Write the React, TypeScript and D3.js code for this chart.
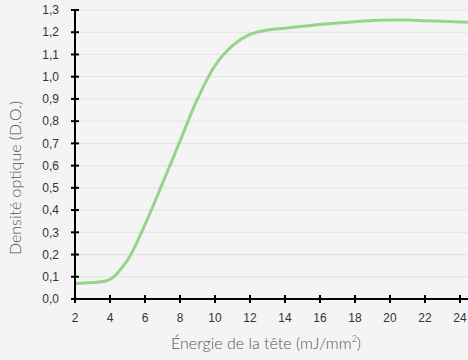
import React from 'react';
import * as d3 from 'd3';

// energy (mJ/mm²) and optical density
const energy = [2, 3, 4, 5, 6, 7, 8, 9, 10, 11, 12, 13, 14, 15, 16, 17, 18, 19, 20, 21, 22, 23, 24, 24.5];
const density = [0.07, 0.074, 0.088, 0.175, 0.335, 0.52, 0.71, 0.9, 1.05, 1.14, 1.19, 1.21, 1.218, 1.227, 1.235, 1.241, 1.247, 1.253, 1.255, 1.255, 1.252, 1.249, 1.246, 1.245];
const xTicks = [2, 4, 6, 8, 10, 12, 14, 16, 18, 20, 22, 24];
const yTicks = [0, 0.1, 0.2, 0.3, 0.4, 0.5, 0.6, 0.7, 0.8, 0.9, 1.0, 1.1, 1.2, 1.3];

const W = 468;
const H = 360;

export default function App() {
  const x = d3.scaleLinear().domain([2, 24]).range([75, 460]);
  const y = d3.scaleLinear().domain([0, 1.3]).range([299, 10]);

  const points = energy.map((e, i) => [e, density[i]] as [number, number]);
  const line = d3.line<[number, number]>()
    .x(d => x(d[0]))
    .y(d => y(d[1]))
    .curve(d3.curveCatmullRom.alpha(0.5));

  const fmt = (v: number) => v.toFixed(1).replace('.', ',');
  const tickFont = '"Liberation Sans", Arial, sans-serif';
  const titleFont = 'Lato, "Open Sans", sans-serif';

  return (
    <svg width={W} height={H} style={{ position: 'absolute', left: 0, top: 0, background: '#f4f4f4' }}>
      {/* grid */}
      {yTicks.slice(1).map(t => (
        <line key={'g' + t} x1={75} x2={W} y1={y(t)} y2={y(t)} stroke="#e2e2e2" strokeWidth={1} />
      ))}

      <path d={line(points) || ''} fill="none" stroke="#97d48b" strokeWidth={3} strokeLinejoin="round" />

      {/* y axis */}
      <line x1={75} x2={75} y1={y(1.3)} y2={y(0)} stroke="#000" strokeWidth={2} />
      {yTicks.map(t => (
        <g key={'y' + t}>
          <line x1={71} x2={79} y1={y(t)} y2={y(t)} stroke="#000" strokeWidth={2} />
          <text x={59} y={y(t)} dy="0.35em" textAnchor="end" fontSize={12} fill="#333" fontFamily={tickFont}>
            {fmt(t)}
          </text>
        </g>
      ))}

      {/* x axis */}
      <line x1={75} x2={W} y1={y(0)} y2={y(0)} stroke="#000" strokeWidth={2} />
      {xTicks.map(t => (
        <g key={'x' + t}>
          <line x1={x(t)} x2={x(t)} y1={y(0) - 4} y2={y(0) + 4} stroke="#000" strokeWidth={2} />
          <text x={x(t)} y={322} textAnchor="middle" fontSize={12} fill="#333" fontFamily={tickFont}>
            {t}
          </text>
        </g>
      ))}

      <text x={266} y={349} textAnchor="middle" fontSize={16} fill="#555" fontFamily={titleFont} fontWeight={300}>
        Énergie de la tête (mJ/mm<tspan dy={-7} fontSize={9}>2</tspan><tspan dy={7}>)</tspan>
      </text>
      <text
        transform={`translate(21,${178}) rotate(-90)`}
        textAnchor="middle"
        fontSize={16}
        fill="#555"
        fontFamily={titleFont}
        fontWeight={300}
      >
        Densité optique (D.O.)
      </text>
    </svg>
  );
}
